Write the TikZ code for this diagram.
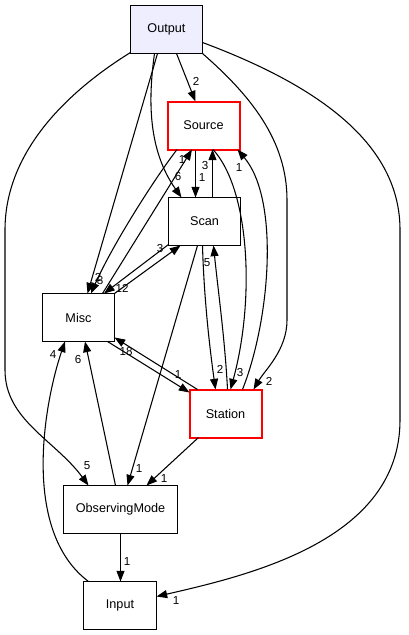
\documentclass[tikz,border=0pt]{standalone}
\usepackage{fontspec}
\setmainfont{Liberation Sans}
\usetikzlibrary{arrows.meta,calc}
\definecolor{curfill}{HTML}{EEEEFF}
\definecolor{dirred}{RGB}{255,0,0}
\tikzset{
  boxbase/.style={line width=0.8pt, outer sep=0pt, minimum width=54pt, minimum height=36pt, inner sep=0pt, fill=white, text=black, font=\fontsize{9.5}{11}\selectfont},
  box/.style={boxbase, draw=black},
  redbox/.style={boxbase},
  redframe/.style={draw=dirred, line width=1.5pt},
  dep/.style={draw=black, line width=0.8pt, -{Triangle[length=8pt,width=6pt]}},
  lab/.style={inner sep=0pt, font=\fontsize{8.7}{10}\selectfont},
}
\begin{document}
\begin{tikzpicture}[x=0.75pt,y=-0.75pt]
\fill[white] (0,0) rectangle (408,635);
\useasboundingbox (0,0) rectangle (408,635);
% nodes
\node[box, fill=curfill] (Output) at (166.5,29.5) {Output};
\node[redbox] (Source) at (203.5,125.5) {Source};
\node[box] (Scan) at (204.5,221.5) {Scan};
\node[box] (Misc) at (78.5,317.5) {Misc};
\node[redbox] (Station) at (225.5,413.5) {Station};
\node[box, minimum width=85.5pt] (ObservingMode) at (120.5,509.5) {ObservingMode};
\node[box, minimum width=54.75pt] (Input) at (120,605.5) {Input};
\draw[redframe] (Source.south west) rectangle (Source.north east);
\draw[redframe] (Station.south west) rectangle (Station.north east);
% edges
\draw[dep] ($(Output.south)+(10,0)$) -- ($(Source.north)+(-8,0)$);
\draw[dep] ($(Output.south)+(-9,0)$) -- ($(Misc.north)+(9,0)$);
\draw[dep] ($(Output.south)+(-12,0)$) .. controls (148,100) and (148,150) .. ($(Scan.north)+(-23,0)$);
\draw[dep] ($(Output.south west)+(0,-1)$) .. controls (70,90) and (5,150) .. (5,230) -- (5,370) .. controls (5,420) and (55,440) .. ($(ObservingMode.north)+(-32,0)$);
\draw[dep] (Output.south east) .. controls (250,95) and (287,140) .. (287,200) -- (287,320) .. controls (287,350) and (265,370) .. ($(Station.north)+(28,0)$);
\draw[dep] ($(Output.east)+(0,13)$) .. controls (330,90) and (400,150) .. (400,230) -- (400,420) .. controls (400,540) and (250,575) .. ($(Input.east)+(0,-9)$);
\draw[dep] ($(Source.south west)+(9.5,0)$) .. controls (150,185) and (110,250) .. ($(Misc.north)+(12.5,0)$);
\draw[dep] ($(Misc.north)+(24,0)$) -- ($(Source.south)+(-11.5,0)$);
\draw[dep] ($(Source.south)+(-8,0)$) -- ($(Scan.north)+(-9,0)$);
\draw[dep] ($(Scan.north)+(8,0)$) -- ($(Source.south)+(9,0)$);
\draw[dep] (Misc.north east) -- ($(Scan.south west)+(12,0)$);
\draw[dep] ($(Scan.south west)+(0,-1)$) -- ($(Misc.north)+(25.5,0)$);
\draw[dep] ($(Source.south)+(9.5,0)$) .. controls (250,190) and (255,300) .. ($(Station.north)+(5,0)$);
\draw[dep] ($(Station.north)+(17,0)$) .. controls (270,320) and (280,200) .. ($(Source.south east)+(-2,0)$);
\draw[dep] ($(Scan.south)+(-2,0)$) .. controls (204,300) and (210,350) .. ($(Station.north)+(-10,0)$);
\draw[dep] ($(Station.north)+(2,0)$) .. controls (225,340) and (218,290) .. ($(Scan.south)+(9,0)$);
\draw[dep] ($(Misc.south east)+(-7,0)$) -- ($(Station.west)+(0,-21)$);
\draw[dep] ($(Station.north west)+(8,0)$) -- ($(Misc.south east)+(0,-4)$);
\draw[dep] ($(Scan.south)+(-7,0)$) -- ($(ObservingMode.north)+(7,0)$);
\draw[dep] ($(Station.south west)+(9,0)$) -- ($(ObservingMode.north)+(26,0)$);
\draw[dep] ($(ObservingMode.north)+(-5,0)$) -- ($(Misc.south)+(6.5,0)$);
\draw[dep] ($(Input.north west)+(5,0)$) .. controls (20,530) and (45,400) .. ($(Misc.south)+(-13.5,0)$);
\draw[dep] (ObservingMode.south) -- (ObservingMode.south |- Input.north);
% labels
\node[lab] (l1) at (196,81) {2};
\node[lab] (l2) at (98,277) {2};
\node[lab] (l3) at (178,177) {6};
\node[lab] (l4) at (87,466) {5};
\node[lab] (l5) at (269,381) {2};
\node[lab] (l6) at (176,601) {1};
\node[lab] (l7) at (100,281) {8};
\node[lab] (l8) at (182,160) {1};
\node[lab] (l9) at (202,178) {1};
\node[lab] (l10) at (205,166) {3};
\node[lab] (l11) at (160,249) {3};
\node[lab] (l12) at (122,288) {12};
\node[lab] (l13) at (240,373) {3};
\node[lab] (l14) at (239,168) {1};
\node[lab] (l15) at (220,369) {2};
\node[lab] (l16) at (207,263) {5};
\node[lab] (l17) at (178,375) {1};
\node[lab] (l18) at (126,352) {18};
\node[lab] (l19) at (139,469) {1};
\node[lab] (l20) at (164,479) {1};
\node[lab] (l21) at (78,360) {6};
\node[lab] (l22) at (53,355) {4};
\node[lab] (l23) at (127,562) {1};
\end{tikzpicture}
\end{document}
